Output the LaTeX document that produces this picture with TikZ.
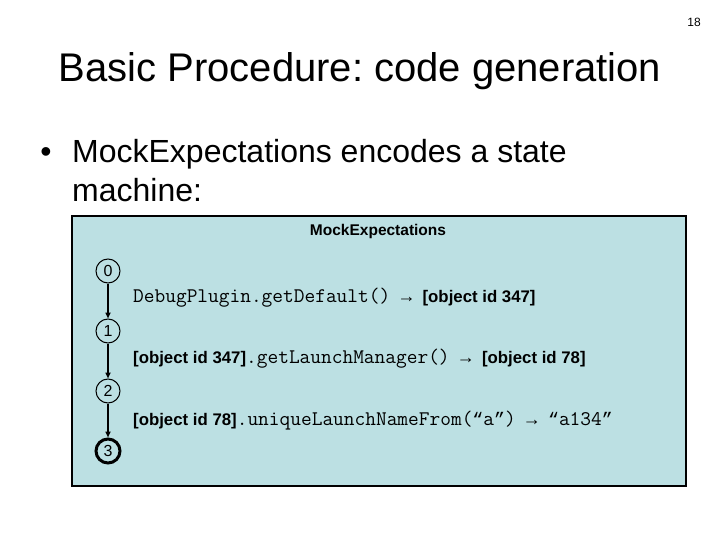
\documentclass[tikz,border=0pt]{standalone}
\usepackage{fontspec}
\setmainfont{Liberation Sans}
\newfontfamily\arrfnt{Liberation Mono}
\usetikzlibrary{arrows.meta,shapes.geometric}
\definecolor{boxfill}{HTML}{BCE0E3}
\newcommand\objfnt{\rmfamily\bfseries\fontsize{16.8}{18}\selectfont}
\newcommand\codefnt{\ttfamily\mdseries\fontsize{20.8}{20}\selectfont}
\newcommand\arr{{\arrfnt\fontsize{18.2}{18}\selectfont →}}
\newcommand\oq{{\arrfnt\fontsize{18.2}{18}\selectfont “}}
\newcommand\cq{{\arrfnt\fontsize{18.2}{18}\selectfont ”}}
\begin{document}
\frenchspacing
\begin{tikzpicture}[x=1pt,y=-1pt,
  state/.style={draw=black,line width=1pt,circle,minimum size=24pt,inner sep=0pt,font=\fontsize{16}{16}\selectfont},
  final/.style={state,line width=3pt},
  trans/.style={line width=1.6pt,-{Triangle[length=6pt,width=5pt]}},
  lbl/.style={anchor=base west,inner sep=0pt}]
\useasboundingbox (0,0) rectangle (720,540);
\node[anchor=base,inner sep=0pt,font=\fontsize{12}{12}\selectfont] (pg) at (694,27) {18};
\node[anchor=base,inner sep=0pt,font=\fontsize{40}{40}\selectfont] (title) at (360,82) {Basic Procedure: code generation};
\node[anchor=base,inner sep=0pt,font=\fontsize{32}{32}\selectfont] (bul) at (46,163) {•};
\node[anchor=base west,inner sep=0pt,font=\fontsize{32}{32}\selectfont] (l1) at (72,163) {MockExpectations encodes a state};
\node[anchor=base west,inner sep=0pt,font=\fontsize{32}{32}\selectfont] (l2) at (72,202) {machine:};
\draw[fill=boxfill,line width=1.5pt] (72,216) rectangle (686,486);
\node[anchor=base,inner sep=0pt,font=\bfseries\fontsize{15.5}{15}\selectfont] (mt) at (378,236) {MockExpectations};
\node[state] (s0) at (108,271) {0};
\node[state] (s1) at (108,331) {1};
\node[state] (s2) at (108,391) {2};
\node[final] (s3) at (108,451) {3};
\draw[trans] (s0) -- (s1);
\draw[trans] (s1) -- (s2);
\draw[trans] (s2) -- (s3);
\node[lbl] (t1) at (133,302) {\codefnt DebugPlugin.getDefault() \arr{} {\objfnt[object id 347]}};
\node[lbl] (t2) at (133,363) {{\objfnt[object id 347]}\codefnt .getLaunchManager() \arr{} {\objfnt[object id 78]}};
\node[lbl] (t3) at (133,425) {{\objfnt[object id 78]}\codefnt .uniqueLaunchNameFrom(\oq{}a\cq{}) \arr{} \oq{}a134\cq{}};
\end{tikzpicture}
\end{document}
